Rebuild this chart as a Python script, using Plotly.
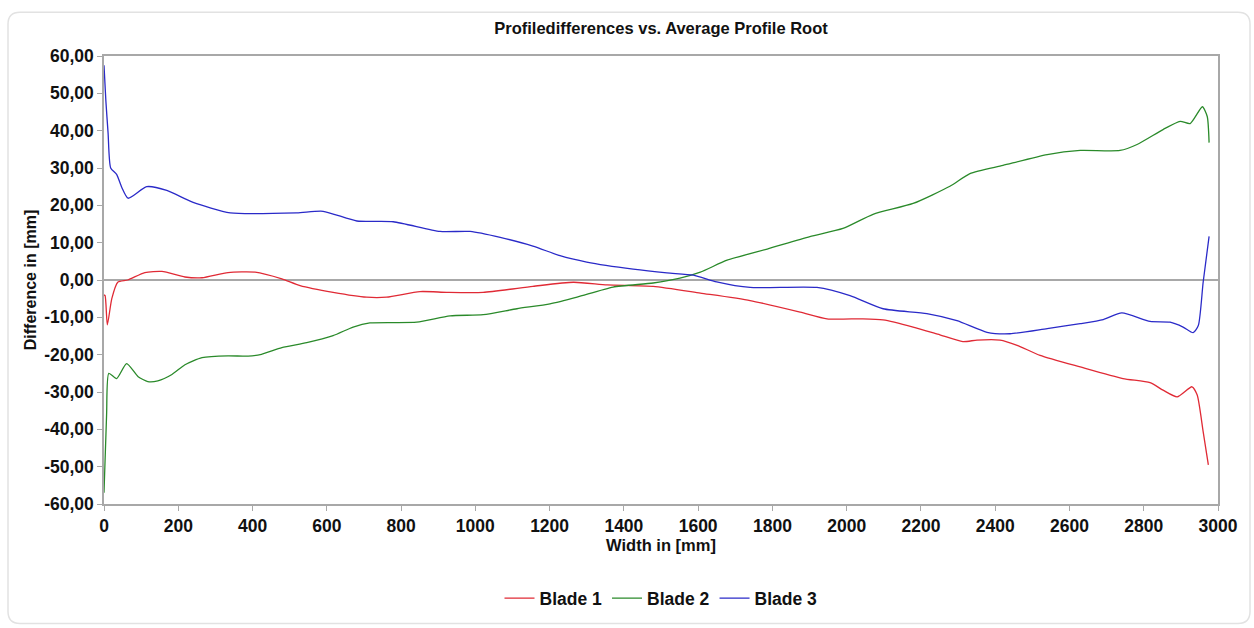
import plotly.graph_objects as go

# Blade 1 (red)
b1_x = [0, 3, 9, 21, 37, 64, 110, 156, 218, 264, 334, 407, 479, 528, 617, 707, 761, 851, 923, 1021, 1155, 1264, 1355, 1479, 1606, 1740, 1875, 1947, 2044, 2098, 2179, 2251, 2313, 2351, 2413, 2459, 2521, 2629, 2744, 2817, 2852, 2890, 2930, 2944, 2960, 2974]
b1_y = [-4, -4.2, -12, -5, -0.6, 0, 2, 2.3, 0.8, 0.6, 2, 2.1, 0.3, -1.5, -3.3, -4.6, -4.6, -3.1, -3.3, -3.3, -1.7, -0.6, -1.3, -1.7, -3.5, -5.5, -8.6, -10.4, -10.4, -10.7, -12.6, -14.7, -16.5, -16.1, -16.1, -17.5, -20.2, -23.3, -26.4, -27.5, -29.5, -31.3, -28.6, -30.8, -40.6, -49.5]

# Blade 2 (green)
b2_x = [0, 7, 13, 34, 61, 92, 118, 145, 183, 218, 264, 334, 388, 424, 479, 546, 617, 671, 716, 842, 932, 1021, 1112, 1201, 1274, 1371, 1479, 1551, 1606, 1678, 1786, 1901, 1990, 2071, 2179, 2278, 2332, 2421, 2540, 2629, 2736, 2782, 2852, 2898, 2925, 2958, 2971, 2976]
b2_y = [-57, -36, -25, -26.4, -22.4, -25.9, -27.2, -27, -25.3, -22.7, -20.8, -20.3, -20.4, -19.9, -18.1, -16.8, -14.9, -12.6, -11.5, -11.3, -9.6, -9.3, -7.7, -6.4, -4.6, -1.9, -0.8, 0.5, 2.1, 5.3, 8.3, 11.6, 13.8, 17.6, 20.5, 25.1, 28.5, 30.7, 33.6, 34.7, 34.7, 36.3, 40.3, 42.5, 41.9, 46.4, 43.8, 36.8]

# Blade 3 (blue)
b3_x = [0, 5, 11, 18, 34, 48, 65, 115, 169, 240, 340, 519, 590, 681, 779, 905, 986, 1067, 1155, 1228, 1300, 1425, 1516, 1587, 1650, 1740, 1920, 2009, 2098, 2216, 2297, 2378, 2440, 2540, 2629, 2691, 2741, 2817, 2871, 2906, 2933, 2947, 2960, 2976]
b3_y = [57.5, 48, 39.4, 30, 28.3, 24.8, 21.9, 25, 24, 20.8, 18, 18, 18.4, 15.8, 15.6, 13, 13, 11.4, 9.1, 6.5, 4.8, 2.9, 1.9, 1.3, -0.5, -2, -2, -4.2, -7.7, -9, -10.9, -14, -14.4, -13, -11.7, -10.6, -8.8, -11.1, -11.3, -12.6, -14.1, -12.2, -0.6, 11.7]

x_ticks = list(range(0, 3001, 200))
y_ticks = [60, 50, 40, 30, 20, 10, 0, -10, -20, -30, -40, -50, -60]
y_tick_labels = ["60,00", "50,00", "40,00", "30,00", "20,00", "10,00", "0,00",
                 "-10,00", "-20,00", "-30,00", "-40,00", "-50,00", "-60,00"]

series = [("Blade 1", b1_x, b1_y, "#e02a35"),
          ("Blade 2", b2_x, b2_y, "#2a8a2a"),
          ("Blade 3", b3_x, b3_y, "#2a2ac8")]

fig = go.Figure()
for name, xs, ys, col in series:
    fig.add_trace(go.Scatter(x=xs, y=ys, mode="lines", name=name,
                             line=dict(color=col, width=1.3, shape="spline", smoothing=0.6)))

FONT = "Liberation Sans, Arial, sans-serif"
axis_common = dict(showgrid=False, showline=True, linecolor="#a8a8a8", linewidth=1.5,
                   mirror=True, ticks="outside", ticklen=5, tickcolor="#a8a8a8",
                   tickfont=dict(family=FONT, size=17.5, color="#111", weight="bold"))

fig.update_layout(
    width=1254, height=628,
    paper_bgcolor="white", plot_bgcolor="white",
    margin=dict(l=104, r=36, t=56, b=122),
    title=dict(text="Profiledifferences vs. Average Profile Root", x=0.5, xref="paper",
               y=1 - 28 / 628, yanchor="middle",
               font=dict(family=FONT, size=16.5, color="#111", weight="bold")),
    xaxis=dict(range=[0, 3000], tickvals=x_ticks, ticktext=[str(v) for v in x_ticks],
               title=dict(text="Width in [mm]", standoff=0,
                          font=dict(family=FONT, size=16.5, color="#111", weight="bold")),
               zeroline=False, **axis_common),
    yaxis=dict(range=[-60, 60], tickvals=y_ticks, ticktext=y_tick_labels,
               title=dict(text="Difference in [mm]", standoff=4,
                          font=dict(family=FONT, size=16, color="#111", weight="bold")),
               zeroline=True, zerolinecolor="#a8a8a8", zerolinewidth=1.5, **axis_common),
    legend=dict(orientation="h", x=0.5, xanchor="center", y=-0.17, yanchor="top",
                font=dict(family=FONT, size=17.5, color="#111", weight="bold"),
                itemwidth=30, tracegroupgap=0),
    showlegend=True,
)

# outer rounded frame
x0, x1 = (8 - 104) / 1114, (1250 - 104) / 1114
y0, y1 = (506 - 626) / 450, (506 - 12) / 450
rx, ry = 12 / 1114, 12 / 450
path = (f"M {x0+rx},{y1} L {x1-rx},{y1} Q {x1},{y1} {x1},{y1-ry} "
        f"L {x1},{y0+ry} Q {x1},{y0} {x1-rx},{y0} L {x0+rx},{y0} Q {x0},{y0} {x0},{y0+ry} "
        f"L {x0},{y1-ry} Q {x0},{y1} {x0+rx},{y1} Z")
fig.add_shape(type="path", path=path, xref="paper", yref="paper",
              line=dict(color="#e2e2e2", width=1.5), layer="below")

fig.write_html("out.html", config={"displayModeBar": False},
               post_script="document.body.style.margin='0';document.body.style.overflow='hidden';")
